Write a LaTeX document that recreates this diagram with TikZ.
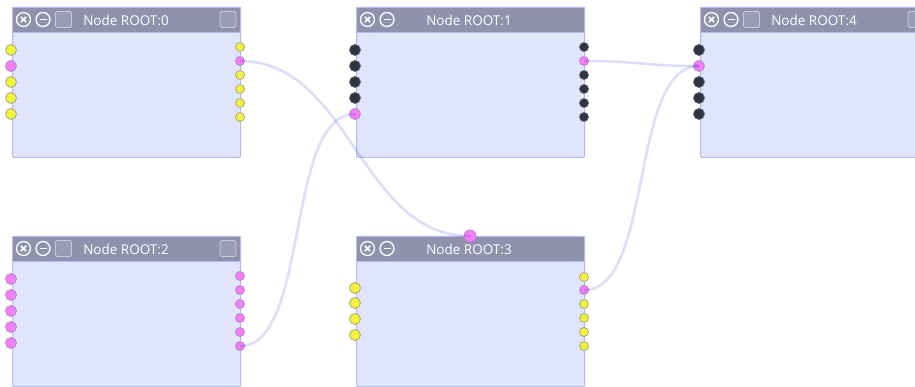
\documentclass[tikz,border=0pt]{standalone}
\usepackage{fontspec}
\setmainfont{Open Sans}
\begin{document}
\begin{tikzpicture}[x=1pt,y=-1pt,
  wire/.style={draw=wirecol,line width=2.6pt},
  panel/.style={draw=panelline,fill=panelfill,line width=1pt,anchor=north west,
    minimum width=228pt,minimum height=150pt,inner sep=0pt,rounded corners=1pt},
  headbar/.style={fill=headfill,draw=panelline,line width=0.6pt,anchor=north west,
    minimum width=228pt,minimum height=25pt,inner sep=0pt},
  headtext/.style={text=white,font=\fontsize{13.5}{15}\selectfont,inner sep=0pt},
  pin/.style={circle,inner sep=0pt,minimum size=11pt,line width=0.8pt},
  smallpin/.style={pin,minimum size=9pt},
  yel/.style={fill=pinyel,draw=pinyelb},
  pnk/.style={fill=pinpnk,draw=pinpnkb},
  drk/.style={fill=pindrk,draw=pindrkb},
  ring/.style={circle,draw=white,line width=1.3pt,minimum size=14pt,inner sep=0pt},
  tbox/.style={draw=boxline,fill=boxfill,line width=0.9pt,rounded corners=1.5pt,
    minimum size=16pt,inner sep=0pt}]
\definecolor{wirecol}{HTML}{DCDFF9}
\definecolor{panelline}{HTML}{B3BBF2}
\definecolor{panelfill}{HTML}{E1E5FB}
\definecolor{headfill}{HTML}{9092AD}
\definecolor{pinyel}{HTML}{F2F23A}
\definecolor{pinyelb}{HTML}{A7A78A}
\definecolor{pinpnk}{HTML}{F57FF5}
\definecolor{pinpnkb}{HTML}{B383D6}
\definecolor{pindrk}{HTML}{2F333F}
\definecolor{pindrkb}{HTML}{5B6480}
\definecolor{boxline}{HTML}{C9CAD8}
\definecolor{boxfill}{HTML}{9A9CB6}

\useasboundingbox (0,0) rectangle (915,387);
\clip (0,0) rectangle (915,387);

% ---- panel bodies and header bars
\foreach \n/\x/\y in {0/12/7, 1/356/7, 4/700/7, 2/12/236, 3/356/236}{
  \node[panel] (p\n) at (\x,\y) {};
  \node[headbar] (h\n) at (\x,\y) {};
}

% ---- header titles
\node[headtext] (t0) at (126,20) {Node ROOT:0};
\node[headtext] (t1) at (469,20) {Node ROOT:1};
\node[headtext] (t4) at (814,20) {Node ROOT:4};
\node[headtext] (t2) at (126,249) {Node ROOT:2};
\node[headtext] (t3) at (469,249) {Node ROOT:3};

% ---- header buttons: close, collapse, toggles
\foreach \n/\x/\y in {0/12/7, 1/356/7, 4/700/7, 2/12/236, 3/356/236}{
  \node[ring] (c\n) at (\x+11.5,\y+12.5) {};
  \draw[white,line width=1.6pt] ([shift={(-2.6,-2.6)}]c\n.center) -- ([shift={(2.6,2.6)}]c\n.center)
    ([shift={(-2.6,2.6)}]c\n.center) -- ([shift={(2.6,-2.6)}]c\n.center);
  \node[ring] (m\n) at (\x+31,\y+12.5) {};
  \draw[white,line width=1.6pt] ([xshift=-3.5pt]m\n.center) -- ([xshift=3.5pt]m\n.center);
}
\foreach \n/\x/\y in {0/12/7, 4/700/7, 2/12/236}{
  \node[tbox] (s\n) at (\x+51.5,\y+12.5) {};
  \node[tbox] (r\n) at (\x+216,\y+12.5) {};
}

% ---- ROOT:0 pins
\foreach \i/\y/\s in {1/50/yel, 2/66/pnk, 3/82/yel, 4/98/yel, 5/114/yel}
  \node[pin,\s] (a0l\i) at (11,\y) {};
\foreach \i/\y/\s in {1/47/yel, 2/61/pnk, 3/75/yel, 4/89/yel, 5/103/yel, 6/117/yel}
  \node[smallpin,\s] (a0r\i) at (240,\y) {};

% ---- ROOT:1 pins
\foreach \i/\y/\s in {1/50/drk, 2/66/drk, 3/82/drk, 4/98/drk, 5/114/pnk}
  \node[pin,\s] (a1l\i) at (355,\y) {};
\foreach \i/\y/\s in {1/47/drk, 2/61/pnk, 3/75/drk, 4/89/drk, 5/103/drk, 6/117/drk}
  \node[smallpin,\s] (a1r\i) at (584,\y) {};

% ---- ROOT:4 pins
\foreach \i/\y/\s in {1/50/drk, 2/66/pnk, 3/82/drk, 4/98/drk, 5/114/drk}
  \node[pin,\s] (a4l\i) at (699,\y) {};

% ---- ROOT:2 pins
\foreach \i/\y in {1/279, 2/295, 3/311, 4/327, 5/343}
  \node[pin,pnk] (a2l\i) at (11,\y) {};
\foreach \i/\y in {1/276, 2/290, 3/304, 4/318, 5/332, 6/346}
  \node[smallpin,pnk] (a2r\i) at (240,\y) {};

% ---- ROOT:3 pins
\node[pin,pnk,minimum size=12pt] (a3top) at (470,236) {};
\foreach \i/\y in {1/288, 2/303, 3/319, 4/335}
  \node[pin,yel] (a3l\i) at (355,\y) {};
\foreach \i/\y/\s in {1/277/yel, 2/290/pnk, 3/304/yel, 4/318/yel, 5/332/yel, 6/346/yel}
  \node[smallpin,\s] (a3r\i) at (584,\y) {};

% ---- links between pins (multiplied so they tint what lies beneath)
\begin{scope}[blend mode=multiply]
\draw[wire] (a0r2.center) .. controls +(110,0) and +(-110,0) .. (a3top.center);
\draw[wire] (a2r6.center) .. controls +(70,0) and +(-70,0) .. (a1l5.center);
\draw[wire] (a1r2.center) .. controls +(60,0) and +(-60,0) .. (a4l2.center);
\draw[wire] (a3r2.center) .. controls +(70,0) and +(-70,0) .. (a4l2.center);
\end{scope}
\end{tikzpicture}
\end{document}
